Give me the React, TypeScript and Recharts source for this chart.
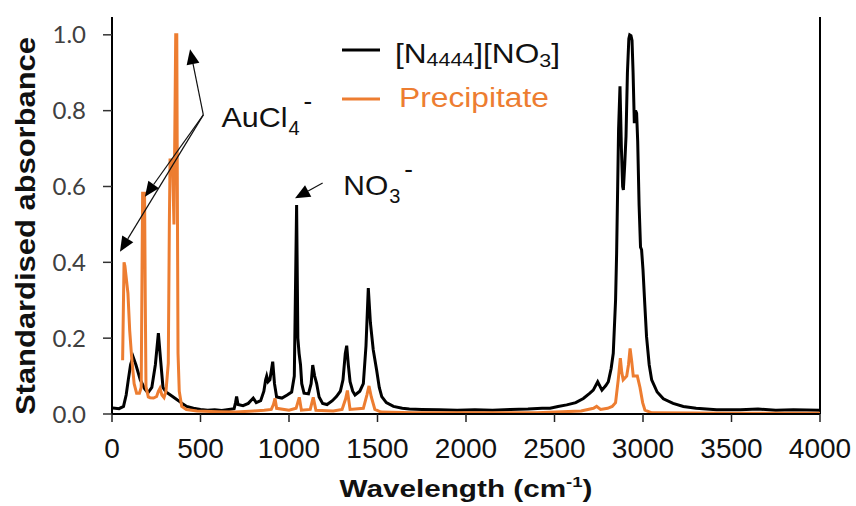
import { Label, Legend, Line, LineChart, ReferenceDot, ReferenceLine, XAxis, YAxis } from "recharts";

// [N4444][NO3] spectrum (wavenumber cm-1 / standardised absorbance)
const ilWn = [
  5, 40, 65, 80, 92, 105, 119, 135, 160, 185, 203, 225, 245, 262, 275, 288, 305, 330, 360, 390,
  422, 460, 500, 540, 580, 620, 660, 690, 698, 704, 712, 740, 770, 798, 815, 840, 858, 868, 874, 882,
  892, 908, 918, 930, 960, 990, 1015, 1030, 1043, 1050, 1057, 1065, 1072, 1085, 1110, 1125, 1134, 1145, 1156, 1170,
  1190, 1215, 1245, 1268, 1290, 1305, 1318, 1326, 1335, 1345, 1360, 1373, 1400, 1420, 1435, 1448, 1460, 1476, 1495, 1510,
  1524, 1550, 1590, 1640, 1680, 1750, 1850, 1950, 2050, 2150, 2250, 2350, 2430, 2475, 2520, 2569, 2620, 2663, 2700, 2719,
  2744, 2768, 2790, 2804, 2820, 2832, 2845, 2851, 2862, 2870, 2878, 2885, 2889, 2897, 2904, 2912, 2920, 2925, 2932, 2938,
  2944, 2951, 2958, 2964, 2970, 2978, 2986, 2992, 3000, 3010, 3020, 3035, 3049, 3080, 3115, 3170, 3228, 3300, 3416, 3550,
  3650, 3750, 3850, 4000,
];
const ilAbs = [
  0.016, 0.014, 0.02, 0.05, 0.09, 0.13, 0.151, 0.13, 0.09, 0.066, 0.056, 0.07, 0.13, 0.213, 0.14, 0.07, 0.058, 0.05, 0.04, 0.03,
  0.02, 0.015, 0.012, 0.01, 0.011, 0.009, 0.012, 0.014, 0.03, 0.046, 0.025, 0.022, 0.028, 0.042, 0.03, 0.035, 0.06, 0.09, 0.1, 0.085,
  0.09, 0.138, 0.08, 0.045, 0.042, 0.05, 0.058, 0.1, 0.551, 0.2, 0.16, 0.13, 0.08, 0.055, 0.053, 0.08, 0.129, 0.1, 0.081, 0.045,
  0.028, 0.025, 0.035, 0.046, 0.06, 0.09, 0.16, 0.18, 0.13, 0.085, 0.06, 0.05, 0.06, 0.08, 0.18, 0.332, 0.24, 0.169, 0.116, 0.07,
  0.046, 0.03, 0.02, 0.015, 0.013, 0.012, 0.011, 0.01, 0.011, 0.01, 0.012, 0.013, 0.015, 0.015, 0.02, 0.024, 0.03, 0.041, 0.055, 0.063,
  0.085, 0.063, 0.075, 0.085, 0.12, 0.16, 0.3, 0.424, 0.75, 0.864, 0.7, 0.6, 0.591, 0.66, 0.732, 0.9, 0.99, 1.0, 0.998, 0.985,
  0.9, 0.767, 0.8, 0.793, 0.72, 0.55, 0.44, 0.433, 0.38, 0.29, 0.204, 0.13, 0.09, 0.058, 0.04, 0.028, 0.02, 0.015, 0.011, 0.011,
  0.013, 0.01, 0.011, 0.01,
];

// Precipitate spectrum
const ppWn = [
  60, 68, 73, 90, 100, 111, 125, 139, 155, 165, 170, 173, 184, 188, 192, 205, 215, 235, 252, 262,
  271, 282, 294, 305, 318, 324, 328, 342, 350, 356, 360, 366, 370, 373, 380, 394, 420, 480, 600, 700,
  800, 860, 900, 912, 921, 930, 1000, 1040, 1058, 1070, 1120, 1137, 1152, 1250, 1300, 1320, 1330, 1345, 1420, 1440,
  1452, 1465, 1485, 1520, 1700, 2000, 2400, 2650, 2720, 2738, 2760, 2800, 2826, 2845, 2860, 2872, 2880, 2888, 2908, 2918,
  2927, 2936, 2945, 2968, 2983, 2998, 3011, 3050, 3500, 4000,
];
const ppAbs = [
  0.142, 0.4, 0.39, 0.319, 0.22, 0.15, 0.08, 0.055, 0.055, 0.07, 0.4, 0.582, 0.582, 0.3, 0.072, 0.045, 0.043, 0.042, 0.046, 0.06,
  0.068, 0.05, 0.043, 0.06, 0.134, 0.5, 0.67, 0.67, 0.5, 0.8, 1.0, 1.0, 0.5, 0.16, 0.06, 0.02, 0.012, 0.008, 0.006, 0.005,
  0.008, 0.01, 0.012, 0.025, 0.041, 0.015, 0.01, 0.015, 0.044, 0.01, 0.012, 0.044, 0.01, 0.008, 0.012, 0.04, 0.062, 0.012, 0.015, 0.05,
  0.074, 0.045, 0.012, 0.005, 0.003, 0.003, 0.003, 0.008, 0.015, 0.02, 0.012, 0.015, 0.02, 0.03, 0.09, 0.147, 0.11, 0.09, 0.1, 0.13,
  0.173, 0.14, 0.1, 0.1, 0.07, 0.03, 0.01, 0.003, 0.002, 0.002,
];

const xTicks = [0, 500, 1000, 1500, 2000, 2500, 3000, 3500, 4000];
const yTicks = [0, 0.2, 0.4, 0.6, 0.8, 1.0];

const ilData = ilWn.map((wn, i) => ({ wn, a: ilAbs[i] }));
const ppData = ppWn.map((wn, i) => ({ wn, a: ppAbs[i] }));

const ORANGE = "#ED7D31";
const ARIAL = "'Liberation Sans', Arial, sans-serif";

// thin annotation arrow with a filled triangular head
function arrow(props: any) {
  const { x1, y1, x2, y2 } = props;
  const ang = Math.atan2(y2 - y1, x2 - x1);
  const len = 15;
  const half = 6.5;
  const bx = x2 - len * Math.cos(ang);
  const by = y2 - len * Math.sin(ang);
  const px = -Math.sin(ang) * half;
  const py = Math.cos(ang) * half;
  return (
    <g>
      <line x1={x1} y1={y1} x2={bx} y2={by} stroke="#111" strokeWidth={1.2} />
      <polygon points={`${x2},${y2} ${bx + px},${by + py} ${bx - px},${by - py}`} fill="#000" />
    </g>
  );
}

function ionLabel(main: string, sub: string, mainLen: number) {
  return (p: any) => {
    const { cx, cy } = p;
    return (
      <g fontFamily={ARIAL} fill="#111">
        <text x={cx} y={cy} fontSize={28} textLength={mainLen} lengthAdjust="spacingAndGlyphs">
          {main}
        </text>
        <text x={cx + mainLen + 1} y={cy + 8} fontSize={20}>
          {sub}
        </text>
        <text x={cx + mainLen + 16} y={cy - 17} fontSize={26}>
          -
        </text>
      </g>
    );
  };
}

function LegendBox() {
  return (
    <svg width={240} height={100} style={{ display: "block" }}>
      <line x1={6} y1={30} x2={44} y2={30} stroke="#000" strokeWidth={3} />
      <text x={59} y={43} fontFamily={ARIAL} fontSize={28} fill="#111" textLength={165} lengthAdjust="spacingAndGlyphs">
        [N<tspan fontSize={19} dy={3}>4444</tspan>
        <tspan dy={-3}>][NO</tspan>
        <tspan fontSize={19} dy={4}>3</tspan>
        <tspan dy={-4}>]</tspan>
      </text>
      <line x1={6} y1={79} x2={44} y2={79} stroke={ORANGE} strokeWidth={3} />
      <text x={63} y={87} fontFamily={ARIAL} fontSize={27} fill={ORANGE} textLength={150} lengthAdjust="spacingAndGlyphs">
        Precipitate
      </text>
    </svg>
  );
}

export default function App() {
  return (
    <div style={{ position: "absolute", left: 0, top: 0, width: 856, height: 506, background: "#fff" }}>
      <LineChart width={856} height={506} margin={{ top: 17, right: 36, bottom: 0, left: 0 }}>
        <XAxis
          type="number"
          dataKey="wn"
          domain={[0, 4000]}
          ticks={xTicks}
          interval={0}
          height={92}
          tickSize={8}
          tickMargin={16}
          axisLine={{ stroke: "#000", strokeWidth: 2 }}
          tickLine={{ stroke: "#222", strokeWidth: 1.5 }}
          tick={{ fontSize: 28, fill: "#111", fontFamily: ARIAL }}
        >
          <Label
            content={(p: any) => {
              const vb = p.viewBox || { x: 112, y: 414, width: 708 };
              return (
                <text
                  x={vb.x + vb.width / 2}
                  y={vb.y + 83}
                  textAnchor="middle"
                  fontFamily={ARIAL}
                  fontWeight="bold"
                  fontSize={24}
                  fill="#111"
                  textLength={253}
                  lengthAdjust="spacingAndGlyphs"
                >
                  Wavelength (cm<tspan fontSize={15} dy={-10}>-1</tspan>
                  <tspan dy={10}>)</tspan>
                </text>
              );
            }}
          />
        </XAxis>
        <YAxis
          type="number"
          domain={[0, 1.047]}
          allowDataOverflow
          ticks={yTicks}
          interval={0}
          width={112}
          tickSize={9}
          tickMargin={17}
          tickFormatter={(v: number) => v.toFixed(1)}
          axisLine={{ stroke: "#000", strokeWidth: 2 }}
          tickLine={{ stroke: "#333", strokeWidth: 1.5 }}
          tick={{ fontSize: 24, fill: "#404040", fontFamily: "Lato, 'Open Sans', sans-serif" }}
        >
          <Label
            content={(p: any) => {
              const vb = p.viewBox || { x: 0, y: 17 };
              const cx = vb.x + 35;
              const cy = vb.y + 209;
              return (
                <text
                  x={cx}
                  y={cy}
                  transform={`rotate(-90 ${cx} ${cy})`}
                  textAnchor="middle"
                  fontFamily={ARIAL}
                  fontWeight="bold"
                  fontSize={28}
                  fill="#111"
                  textLength={378}
                  lengthAdjust="spacingAndGlyphs"
                >
                  Standardised absorbance
                </text>
              );
            }}
          />
        </YAxis>
        <ReferenceLine x={4000} stroke="#000" strokeWidth={2} />
        <Legend verticalAlign="middle" align="center" wrapperStyle={{ position: "absolute", left: 336, top: 20, width: 240, height: 100 }} content={() => <LegendBox />} />
        <Line data={ilData} dataKey="a" name="[N4444][NO3]" type="linear" stroke="#000" strokeWidth={3} dot={false} isAnimationActive={false} />
        <Line data={ppData} dataKey="a" name="Precipitate" type="linear" stroke={ORANGE} strokeWidth={3} dot={false} isAnimationActive={false} />
        <ReferenceLine segment={[{ x: 516, y: 0.789 }, { x: 441, y: 0.962 }]} shape={arrow} />
        <ReferenceLine segment={[{ x: 516, y: 0.789 }, { x: 186, y: 0.573 }]} shape={arrow} />
        <ReferenceLine segment={[{ x: 516, y: 0.789 }, { x: 45, y: 0.428 }]} shape={arrow} />
        <ReferenceLine segment={[{ x: 1190, y: 0.609 }, { x: 1034, y: 0.569 }]} shape={arrow} />
        <ReferenceDot x={619} y={0.758} r={0} shape={ionLabel("AuCl", "4", 66)} />
        <ReferenceDot x={1307} y={0.578} r={0} shape={ionLabel("NO", "3", 45)} />
      </LineChart>
    </div>
  );
}
